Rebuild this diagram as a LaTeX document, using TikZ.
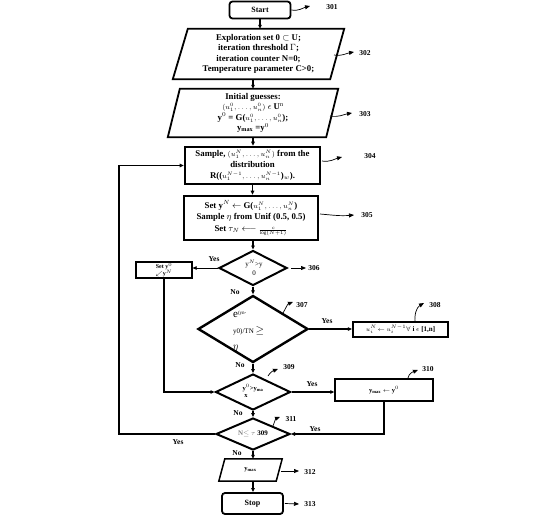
\documentclass[tikz,border=0pt]{standalone}
\usepackage{amsmath}
\usepackage{fontspec}
\setmainfont{Liberation Serif}
\usetikzlibrary{shapes.geometric,arrows.meta,calc}
\newcommand{\smallmath}[1]{{\fontsize{7.5}{7.5}\selectfont$#1$}}
\begin{document}
\begin{tikzpicture}[x=1pt,y=-1pt,
  font=\fontsize{8.8}{11}\selectfont\bfseries,
  boxthick/.style={draw,line width=2.6pt,inner sep=0pt,align=center},
  boxmid/.style={draw,line width=1.8pt,inner sep=0pt,align=center},
  boxthin/.style={draw,line width=1.2pt,inner sep=0pt,align=center},
  rbox/.style={draw,line width=1.8pt,rounded corners=3pt,inner sep=0pt,align=center},
  ptext/.style={inner sep=0pt,align=center},
  dia/.style={draw,diamond,inner sep=0pt,line width=2pt},
  ar/.style={-{Triangle[length=4pt,width=3.5pt]},line width=1.2pt},
  arthin/.style={-{Triangle[length=4pt,width=3.5pt]},line width=0.7pt},
  loopline/.style={-{Triangle[length=4pt,width=3.5pt]},line width=1.6pt},
  callout/.style={-{Triangle[length=5pt,width=4pt]},line width=0.7pt},
  lbl/.style={inner sep=0pt,font=\fontsize{7.5}{9}\selectfont\bfseries},
  yn/.style={inner sep=0pt,font=\fontsize{7.5}{9}\selectfont\bfseries}
]
\useasboundingbox (0,0) rectangle (541,525);

% Start
\node[rbox,minimum width=61pt,minimum height=17pt,font=\fontsize{8}{9}\selectfont\bfseries] (start) at (260,10) {Start};
\node[lbl] (l301) at (332,7) {301};

% 302
\node[ptext,minimum width=171pt,minimum height=50pt,font=\fontsize{8.8}{10.5}\selectfont\bfseries] (p302) at (258.5,54)
  {Exploration set 0 $\subset$ U;\\iteration threshold $\Gamma$;\\iteration counter N=0;\\Temperature parameter C>0;};
\draw[line width=1.8pt] ([xshift=15pt]p302.north west) -- (p302.north east) -- ([xshift=-14pt]p302.south east) -- (p302.south west) -- cycle;
\node[lbl] (l302) at (365,53) {302};

% 303
\node[ptext,minimum width=170pt,minimum height=48pt,font=\fontsize{8.8}{10.5}\selectfont\bfseries] (p303) at (253,113)
  {Initial guesses:\\\smallmath{(u_1^0,\dots,u_n^0)} $\epsilon$ U$^{\mathrm{n}}$\\y$^0$ = G(\smallmath{u_1^0,\dots,u_n^0});\\y$_{\text{max}}$ =y$^0$};
\draw[line width=1.8pt] ([xshift=12pt]p303.north west) -- (p303.north east) -- ([xshift=-12pt]p303.south east) -- (p303.south west) -- cycle;
\node[lbl] (l303) at (365,114) {303};

% 304
\node[boxthick,minimum width=135pt,minimum height=37pt] (b304) at (252.5,165.5)
  {Sample, \smallmath{(u_1^N,\dots,u_n^N)} from the\\distribution\\R((\smallmath{u_1^{N-1},\dots,u_n^{N-1}})$_w$).};
\node[lbl] (l304) at (370,156) {304};

% 305
\node[boxthick,minimum width=134pt,minimum height=44pt] (b305) at (251,218)
  {Set y$^N$ $\leftarrow$ G(\smallmath{u_1^N,\dots,u_n^N})\\Sample $\eta$ from Unif (0.5, 0.5)\\[1pt]Set $\tau_N$ $\longleftarrow$ {\tiny$\frac{c}{\log(N+1)}$}};
\node[lbl] (l305) at (367,215) {305};

% 306
\node[dia,minimum width=68pt,minimum height=35pt] (d306) at (253,268) {};
\node[ptext,font=\fontsize{7}{9}\selectfont] (t306) at (254,268) {y$^N$>y\\0};
\node[lbl] (l306) at (314,268) {306};

% Set box
\node[boxthin,minimum width=56pt,minimum height=16pt] (setb) at (164,270) {};
\node[ptext,font=\fontsize{6}{6}\selectfont\bfseries] (tsetb) at (164,270) {Set y$^0$\\[-1pt]$\swarrow$y$^N$};

% 307
\node[dia,line width=2.4pt,minimum width=110pt,minimum height=67pt] (d307) at (253,329) {};
\node[inner sep=0pt,align=left,anchor=west,font=\fontsize{7}{16}\selectfont\mdseries] (t307) at (233,331)
  {{\fontsize{11}{11}\selectfont e}$^{\text{(yn-}}$\\y0)/TN {\fontsize{11}{11}\selectfont$\geq$}\\{\fontsize{10}{10}\selectfont$\eta$}};
\node[lbl] (l307) at (302,305) {307};

% 308
\node[boxthick,line width=2.2pt,minimum width=95pt,minimum height=15pt] (b308) at (400.5,329.5)
  {{\fontsize{6.5}{6.5}\selectfont$u_i^N\!\leftarrow$\ $u_i^{N-1}$}{\fontsize{7}{7}\selectfont$\forall$ i $\epsilon$ [1,n]}};
\node[lbl] (l308) at (435,305) {308};

% 309
\node[dia,minimum width=75pt,minimum height=36pt] (d309) at (253,392) {};
\node[inner sep=0pt,align=left,font=\fontsize{6.5}{8}\selectfont\bfseries] (t309) at (253,391) {y$^0$>y$_{\text{ma}}$\\[-1pt]\ x};
\node[lbl] (l309) at (289,367) {309};

% 310
\node[boxmid,line width=1.5pt,minimum width=98pt,minimum height=22pt] (b310) at (384,390)
  {{\fontsize{6.5}{8}\selectfont y$_{\text{max}}$ $\leftarrow$ y$^0$}};
\node[lbl] (l310) at (428,369) {310};

% 311
\node[dia,minimum width=74pt,minimum height=32pt] (d311) at (253,434) {};
\node[ptext,font=\fontsize{7}{8}\selectfont\bfseries] (t311) at (253,434) {\textcolor{gray}{N$\leq$ $\tau$} 309};
\node[lbl] (l311) at (291,419) {311};

% 312
\node[ptext,minimum width=63pt,minimum height=22pt] (p312) at (250.5,470)
  {{\fontsize{6.5}{8}\selectfont y$_{\text{max}}$}};
\draw[line width=1.5pt] ([xshift=6pt]p312.north west) -- (p312.north east) -- ([xshift=-6pt]p312.south east) -- (p312.south west) -- cycle;
\node[lbl] (l312) at (310,472) {312};

% 313
\node[rbox,minimum width=61pt,minimum height=21pt,font=\fontsize{8}{9}\selectfont\bfseries] (stop) at (252.5,503.5) {Stop};
\node[lbl] (l313) at (310,504) {313};

% main flow
\draw[ar] (start.south) -- (start.south |- p302.north);
\draw[ar] (p303.north |- p302.south) -- (p303.north);
\draw[ar] (p303.south) -- (p303.south |- b304.north);
\draw[ar] (b304.south) -- (b304.south |- b305.north);
\draw[ar] (d306.north |- b305.south) -- (d306.north);
\draw[ar] (d306.south) -- (d307.north);
\draw[ar] (d307.south) -- (d309.north);
\draw[ar] (d309.south) -- (d311.north);
\draw[ar] (d311.south) -- (d311.south |- p312.north);
\draw[ar] (d311.south |- p312.south) -- (d311.south |- stop.north);

\node[yn] (no1) at (235,292) {No};
\node[yn] (no2) at (240,365) {No};
\node[yn] (no3) at (238,413) {No};
\node[yn] (no4) at (237,453) {No};

% branches
\draw[arthin] (d306.west) -- (d306.west -| setb.east);
\node[yn] (y1) at (214,259) {Yes};
\draw[loopline] (setb.south) |- (d309.west);
\draw[ar,line width=1.8pt] (d307.east) -- (d307.east -| b308.west);
\node[yn] (y2) at (327,321) {Yes};
\draw[ar] (d309.east) -- (d309.east -| b310.west);
\node[yn] (y3) at (312,384) {Yes};
\draw[loopline] (b310.south) |- (d311.east);
\node[yn] (y4) at (315,429) {Yes};
\coordinate (loopc) at (119,434);
\draw[loopline] (d311.west) -- (loopc) |- (b304.west);
\node[yn] (y5) at (178,442) {Yes};

% callouts
\coordinate (c301) at (310,6);
\draw[callout] (start.east) to[out=-10,in=195] (c301);
\coordinate (c302a) at (334,55); \coordinate (c302) at (354,52);
\draw[callout] (c302a) to[out=-10,in=190] (c302);
\coordinate (c303a) at (330,116); \coordinate (c303) at (352,113);
\draw[callout] (c303a) to[out=-10,in=190] (c303);
\coordinate (c304a) at (322,161); \coordinate (c304) at (342,157);
\draw[callout] (c304a) to[out=-10,in=195] (c304);
\coordinate (c305a) at (320,214); \coordinate (c305) at (354,215);
\draw[callout] (c305a) to[out=-5,in=185] (c305);
\coordinate (c306) at (306,268);
\draw[callout] ([xshift=3pt]d306.east) -- (c306);
\coordinate (c307a) at (283,313); \coordinate (c307) at (293,302);
\draw[callout] (c307a) to[out=60,in=200] (c307);
\coordinate (c308a) at (415,322); \coordinate (c308) at (424,303);
\draw[callout] (c308a) to[out=95,in=210] (c308);
\coordinate (c309a) at (268,376); \coordinate (c309) at (278,369);
\draw[callout] (c309a) to[out=60,in=200] (c309);
\coordinate (c310a) at (408,378); \coordinate (c310) at (418,370);
\draw[callout] (c310a) to[out=80,in=200] (c310);
\coordinate (c311a) at (273,426); \coordinate (c311) at (280,417);
\draw[callout] (c311a) to[out=70,in=200] (c311);
\coordinate (c312a) at (281,471); \coordinate (c312) at (299,471);
\draw[callout] (c312a) -- (c312);
\coordinate (c313) at (299,504);
\draw[callout] ([xshift=1pt]stop.east) -- (c313);
\end{tikzpicture}
\end{document}
